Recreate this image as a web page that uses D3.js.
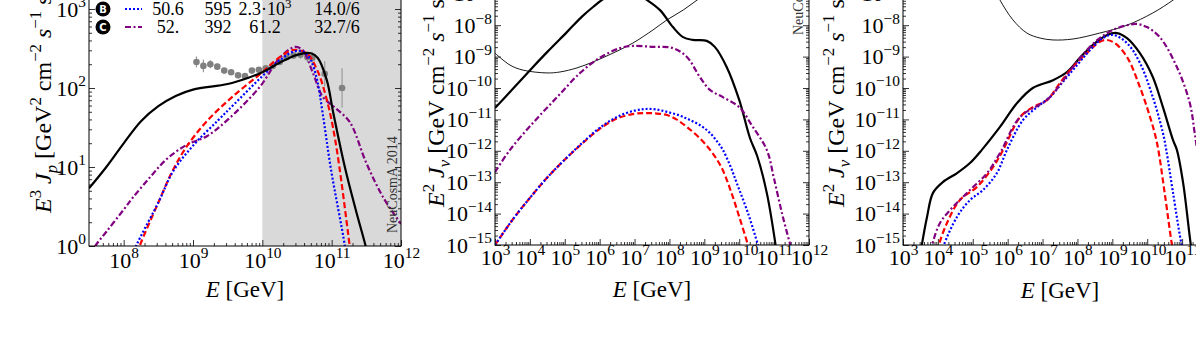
<!DOCTYPE html>
<html><head><meta charset="utf-8">
<script src="https://cdn.jsdelivr.net/npm/d3@7"></script>
<style>body{margin:0;background:#fff}svg{display:block}</style>
</head><body>
<svg id="c" width="1196" height="352"></svg>
<script>
// ---------- DATA (log10 E [GeV], log10 flux) ----------
// Panel 1: proton spectra E^3 J_p
const p1Black  = [[7.5,0.73],[7.75,1.0],[8.0,1.3],[8.25,1.58],[8.5,1.77],[8.75,1.9],[9.0,1.98],[9.5,2.05],[9.8,2.13],[10.0,2.2],[10.25,2.32],[10.5,2.42],[10.7,2.44],[10.8,2.38],[10.93,2.1],[11.02,1.7],[11.19,1.0],[11.35,0.45],[11.49,0.0],[11.6,-0.4]];
const p1Red    = [[8.15,-0.2],[8.23,0],[8.5,0.55],[8.71,0.96],[8.91,1.26],[9.2,1.58],[9.57,1.89],[10.0,2.2],[10.25,2.39],[10.44,2.48],[10.64,2.44],[10.79,2.23],[10.93,1.85],[11.05,1.35],[11.26,0],[11.3,-0.3]];
const p1Blue   = [[8.1,-0.2],[8.18,0],[8.5,0.55],[8.71,0.94],[9.0,1.27],[9.36,1.59],[9.6,1.8],[10.0,2.15],[10.25,2.35],[10.45,2.46],[10.6,2.46],[10.7,2.35],[10.79,2.1],[10.87,1.68],[10.99,0.97],[11.19,0],[11.23,-0.3]];
const p1Purple = [[7.5,-0.15],[7.59,0],[7.75,0.18],[8.0,0.46],[8.13,0.61],[8.38,0.87],[8.62,1.1],[8.91,1.28],[9.2,1.39],[9.49,1.59],[9.96,2.01],[10.25,2.38],[10.47,2.52],[10.58,2.48],[10.73,2.19],[10.87,1.89],[11.05,1.75],[11.26,1.57],[11.5,1.05],[11.74,0.62],[12.0,0.28]];
// Auger-like data points
const p1PtsE   = [9.05,9.15,9.25,9.35,9.45,9.55,9.65,9.75,9.85,9.95,10.05,10.15,10.25,10.35,10.45,10.55,10.65,10.72,10.9,11.15];
const p1PtsJ   = [2.33,2.28,2.30,2.27,2.22,2.20,2.16,2.15,2.22,2.23,2.25,2.28,2.33,2.39,2.41,2.42,2.39,2.38,2.18,2.0];
const p1PtsErr = [0.07,0.08,0.05,0.04,0.03,0.03,0.03,0.02,0.02,0.02,0.02,0.02,0.02,0.03,0.04,0.05,0.06,0.08,0.16,0.25];

// Panel 2: neutrino spectra E^2 J_nu
const p2Black  = [[3.0,-10.64],[3.5,-10.04],[4.09,-9.33],[4.5,-8.85],[5.06,-8.22],[5.5,-7.72],[5.81,-7.42],[6.2,-7.1],[6.7,-6.9],[7.0,-6.95],[7.36,-7.2],[7.73,-7.52],[8.1,-8.06],[8.39,-8.38],[8.67,-8.47],[9.07,-8.5],[9.3,-8.69],[9.64,-9.33],[10.0,-10.38],[10.31,-11.6],[10.51,-12.15],[10.79,-13.34],[11.05,-15.06]];
const p2Thin   = [[3.0,-8.89],[3.43,-9.27],[3.8,-9.43],[4.49,-9.52],[4.86,-9.49],[5.35,-9.36],[5.81,-9.17],[6.38,-8.89],[6.95,-8.57],[7.53,-8.15],[7.93,-7.83],[8.39,-7.52],[8.79,-7.2],[9.3,-6.8]];
const p2Purple = [[3.0,-12.68],[3.43,-11.97],[4.09,-11.11],[4.78,-10.29],[5.44,-9.52],[6.0,-9.04],[6.58,-8.73],[6.95,-8.66],[7.53,-8.69],[8.1,-8.73],[8.5,-9.01],[8.87,-9.65],[9.16,-10.06],[9.53,-10.29],[10.0,-10.61],[10.39,-11.24],[10.79,-11.97],[11.0,-12.9],[11.25,-14.1],[11.48,-15.06]];
const p2Blue   = [[3.0,-15.0],[3.5,-14.2],[4.0,-13.5],[4.5,-12.85],[5.0,-12.28],[5.5,-11.75],[6.0,-11.27],[6.5,-10.92],[7.0,-10.72],[7.3,-10.67],[7.6,-10.68],[7.93,-10.76],[8.3,-10.88],[8.59,-11.02],[8.9,-11.2],[9.16,-11.43],[9.35,-11.68],[9.53,-11.97],[9.75,-12.5],[9.93,-13.03],[10.25,-13.98],[10.54,-15.0],[10.6,-15.2]];
const p2Red    = [[3.0,-15.0],[3.5,-14.2],[4.0,-13.5],[4.5,-12.85],[5.0,-12.28],[5.5,-11.77],[6.0,-11.3],[6.5,-10.97],[7.0,-10.82],[7.3,-10.8],[7.6,-10.81],[7.93,-10.86],[8.2,-11.0],[8.5,-11.24],[8.87,-11.6],[9.22,-12.05],[9.5,-12.55],[9.75,-13.25],[10.0,-14.1],[10.25,-15.0],[10.3,-15.2]];

// Panel 3
const p3Thin   = [[5.6,-6.8],[5.78,-7.2],[6.15,-7.83],[6.55,-8.25],[6.93,-8.41],[7.3,-8.47],[7.87,-8.44],[8.64,-8.25],[9.42,-8.0],[10.16,-7.61],[10.74,-7.2],[11.2,-6.8]];
const p3Black  = [[3.5,-15.3],[3.54,-15.0],[3.69,-14.1],[3.86,-13.34],[4.15,-12.99],[4.55,-12.71],[4.92,-12.39],[5.26,-11.97],[5.78,-11.24],[6.27,-10.48],[6.72,-10.0],[7.3,-9.75],[7.7,-9.49],[8.07,-9.04],[8.44,-8.63],[8.85,-8.31],[9.13,-8.25],[9.42,-8.41],[9.79,-8.89],[10.16,-9.65],[10.45,-10.61],[10.74,-11.66],[10.85,-11.97],[11.03,-13.03],[11.25,-15.0],[11.3,-15.3]];
const p3Red    = [[4.0,-15.2],[4.03,-15.0],[4.26,-14.3],[4.63,-13.57],[5.12,-13.15],[5.58,-12.52],[5.87,-11.97],[6.36,-10.92],[6.72,-10.61],[7.13,-10.38],[7.5,-9.84],[7.87,-9.33],[8.27,-8.89],[8.64,-8.53],[8.84,-8.47],[9.07,-8.57],[9.42,-9.01],[9.79,-9.97],[10.08,-10.92],[10.28,-11.75],[10.5,-13.34],[10.71,-15.0],[10.75,-15.2]];
const p3Blue   = [[4.12,-15.2],[4.17,-15.0],[4.55,-14.1],[4.92,-13.57],[5.29,-13.25],[5.69,-12.71],[5.98,-11.97],[6.44,-11.02],[6.84,-10.61],[7.21,-10.29],[7.58,-9.81],[7.99,-9.27],[8.36,-8.79],[8.73,-8.41],[9.02,-8.31],[9.42,-8.57],[9.79,-9.2],[10.16,-10.29],[10.45,-11.43],[10.55,-12.0],[10.74,-13.34],[10.99,-15.0],[11.05,-15.2]];
const p3Purple = [[3.78,-15.2],[3.83,-15.0],[4.06,-14.3],[4.43,-13.79],[4.92,-13.25],[5.41,-12.71],[5.78,-12.07],[6.36,-10.92],[7.13,-10.38],[7.5,-9.9],[7.87,-9.33],[8.27,-8.79],[8.64,-8.41],[9.02,-8.15],[9.42,-8.0],[9.7,-7.96],[9.99,-8.06],[10.36,-8.38],[10.85,-9.33],[11.22,-10.48],[11.36,-11.43],[11.5,-12.5],[11.7,-14.0],[11.85,-15.0]];

// Legend rows
const legLetters = ["B","C"];
const legVals = [["50.6","595","2.3·10|3","14.0/6"],["52.","392","61.2","32.7/6"]];

// ---------- STYLE ----------
const FONT = "Liberation Serif, Times New Roman, serif";
const styles = {
  black:{stroke:"#000",w:2.2,dash:null},
  thin:{stroke:"#000",w:0.9,dash:null},
  red:{stroke:"#ff0000",w:2.2,dash:"6,3"},
  blue:{stroke:"#0000ff",w:2.2,dash:"2,2"},
  purple:{stroke:"#800080",w:2.2,dash:"6,2.5,2,2.5"}
};

const svg = d3.select("#c");

const panels = [
  {id:"p1", x0:89, x1:401, xd:[10**7.5,1e12], yr:[246,246-3.5*79], yd:[1,10**3.5],
   xdec:[8,9,10,11,12], ydec:[0,1,2,3], xminDec:[7,11], yminDec:[0,3], pad:6,
   series:[[p1Purple,"purple"],[p1Red,"red"],[p1Blue,"blue"],[p1Black,"black"]]},
  {id:"p2", x0:495, x1:809, xd:[1e3,1e12], yr:[245,245-9*31.4], yd:[1e-15,1e-6],
   xdec:[3,4,5,6,7,8,9,10,11,12], ydec:[-15,-14,-13,-12,-11,-10,-9,-8,-7], xminDec:[3,11], yminDec:[-15,-7], pad:4,
   series:[[p2Thin,"thin"],[p2Black,"black"],[p2Purple,"purple"],[p2Red,"red"],[p2Blue,"blue"]]},
  {id:"p3", x0:903, x1:1217, xd:[1e3,1e12], yr:[245,245-9*31.4], yd:[1e-15,1e-6],
   xdec:[3,4,5,6,7,8,9,10,11,12], ydec:[-15,-14,-13,-12,-11,-10,-9,-8,-7], xminDec:[3,11], yminDec:[-15,-7], pad:4,
   series:[[p3Thin,"thin"],[p3Black,"black"],[p3Red,"red"],[p3Blue,"blue"],[p3Purple,"purple"]]}
];

function minors(a,b){const r=[];for(let d=a;d<=b;d++)for(let m=2;m<=9;m++)r.push(m*10**d);return r;}
function supLabel(sel, fs){
  sel.each(function(d){
    const e = Math.round(Math.log10(d));
    const t = d3.select(this); t.text(null);
    t.append("tspan").text("10");
    t.append("tspan").attr("dy",-0.42*fs).attr("font-size",fs*0.7).text(String(e).replace("-","\u2212"));
  });
}

panels.forEach(p=>{
  const x = d3.scaleLog().domain(p.xd).range([p.x0,p.x1]);
  const y = d3.scaleLog().domain(p.yd).range(p.yr);
  const g = svg.append("g");
  const top = p.yr[1], bot = p.yr[0];
  g.append("clipPath").attr("id","clip"+p.id).append("rect")
    .attr("x",p.x0).attr("y",top).attr("width",p.x1-p.x0).attr("height",bot-top);
  if(p.id==="p1"){
    g.append("rect").attr("x",x(1e10)).attr("y",top).attr("width",p.x1-x(1e10)).attr("height",bot-top).attr("fill","#d9d9d9");
  }
  const xM = p.xdec.map(d=>10**d).filter(v=>v>=p.xd[0]&&v<=p.xd[1]);
  const yM = p.ydec.map(d=>10**d);
  const xm = minors(p.xminDec[0],p.xminDec[1]).filter(v=>v>p.xd[0]&&v<p.xd[1]);
  const ym = minors(p.yminDec[0],p.yminDec[1]).filter(v=>v>p.yd[0]&&v<p.yd[1]);
  const tk = (axis, tr)=>{const a=g.append("g").attr("transform",tr).call(axis);a.select(".domain").remove();a.selectAll("text").remove();a.selectAll("line").attr("stroke","#000").attr("stroke-width",0.8);};
  tk(d3.axisBottom(x).tickValues(xM).tickSize(-6),`translate(0,${bot})`);
  tk(d3.axisBottom(x).tickValues(xm).tickSize(-3),`translate(0,${bot})`);
  tk(d3.axisTop(x).tickValues(xM).tickSize(-6),`translate(0,${top})`);
  tk(d3.axisTop(x).tickValues(xm).tickSize(-3),`translate(0,${top})`);
  tk(d3.axisLeft(y).tickValues(yM).tickSize(-6),`translate(${p.x0},0)`);
  tk(d3.axisLeft(y).tickValues(ym).tickSize(-3),`translate(${p.x0},0)`);
  tk(d3.axisRight(y).tickValues(yM).tickSize(-6),`translate(${p.x1},0)`);
  tk(d3.axisRight(y).tickValues(ym).tickSize(-3),`translate(${p.x1},0)`);
  const fs = 22;
  const xl = g.append("g").attr("transform",`translate(0,${bot})`)
    .call(d3.axisBottom(x).tickValues(xM).tickSize(0).tickPadding(p.pad));
  xl.select(".domain").remove();
  xl.selectAll("text").attr("font-family",FONT).attr("font-size",fs).attr("fill","#000").call(supLabel,fs);
  const yl = g.append("g").attr("transform",`translate(${p.x0},0)`)
    .call(d3.axisLeft(y).tickValues(yM).tickSize(0).tickPadding(3));
  yl.select(".domain").remove();
  yl.selectAll("text").attr("font-family",FONT).attr("font-size",fs).attr("fill","#000").call(supLabel,fs);

  const line = d3.line().x(d=>x(10**d[0])).y(d=>y(10**d[1])).curve(d3.curveCatmullRom.alpha(0.5));
  const cg = g.append("g").attr("clip-path",`url(#clip${p.id})`);
  if(p.id==="p1"){
    const pts = p1PtsE.map((e,i)=>({e, j:p1PtsJ[i], er:p1PtsErr[i]}));
    cg.selectAll(".eb").data(pts).join("line")
      .attr("x1",d=>x(10**d.e)).attr("x2",d=>x(10**d.e))
      .attr("y1",d=>y(10**(d.j-d.er))).attr("y2",d=>y(10**(d.j+d.er)))
      .attr("stroke","#9a9a9a").attr("stroke-width",1.2);
    cg.selectAll(".pt").data(pts).join("circle")
      .attr("cx",d=>x(10**d.e)).attr("cy",d=>y(10**d.j)).attr("r",3.3).attr("fill","#808080");
  }
  p.series.forEach(([data,key])=>{
    const s = styles[key];
    cg.append("path").attr("d",line(data)).attr("fill","none")
      .attr("stroke",s.stroke).attr("stroke-width",s.w)
      .attr("stroke-dasharray",s.dash).attr("stroke-linejoin","round");
  });
  g.append("rect").attr("x",p.x0).attr("y",top).attr("width",p.x1-p.x0).attr("height",bot-top)
    .attr("fill","none").attr("stroke","#000").attr("stroke-width",1);
});

function rich(sel, parts, fs){
  let shift = 0;
  parts.forEach(pt=>{
    const target = pt.sup ? -0.4*fs : pt.sub ? 0.25*fs : 0;
    const ts = sel.append("tspan").text(pt.t).attr("dy", target-shift);
    shift = target;
    if(pt.sup||pt.sub) ts.attr("font-size", fs*0.7);
    if(pt.i) ts.attr("font-style","italic");
  });
}
const LF = 23, YF = 24;
[[245,297],[652,297],[1060,298]].forEach(([cx,by])=>{
  const t = svg.append("text").attr("x",cx).attr("y",by).attr("text-anchor","middle")
    .attr("font-family",FONT).attr("font-size",LF);
  rich(t,[{t:"E",i:true},{t:" [GeV]"}],LF);
});
const ylab1 = [{t:"E",i:true},{t:"3",sup:true},{t:" "},{t:"J",i:true},{t:"p",sub:true,i:true},{t:" [GeV"},{t:"2",sup:true},{t:" cm"},{t:"\u22122",sup:true},{t:" "},{t:"s",i:true},{t:"\u22121",sup:true},{t:" sr"},{t:"\u22121",sup:true},{t:"]"}];
const ylab2 = [{t:"E",i:true},{t:"2",sup:true},{t:" "},{t:"J",i:true},{t:"\u03bd",sub:true,i:true},{t:" [GeV cm"},{t:"\u22122",sup:true},{t:" "},{t:"s",i:true},{t:"\u22121",sup:true},{t:" sr"},{t:"\u22121",sup:true},{t:"]"}];
[[51,213,ylab1],[444,207,ylab2],[844,207,ylab2]].forEach(([bx,sy,parts])=>{
  const t = svg.append("text").attr("x",bx).attr("y",sy).attr("transform",`rotate(-90,${bx},${sy})`)
    .attr("font-family",FONT).attr("font-size",YF);
  rich(t,parts,YF);
});
svg.append("text").attr("x",397).attr("y",233).attr("transform","rotate(-90,397,233)")
  .attr("font-family",FONT).attr("font-size",14).attr("fill","#333").text("NeuCosmA 2014");
svg.append("text").attr("x",803).attr("y",35).attr("transform","rotate(-90,803,35)")
  .attr("font-family",FONT).attr("font-size",14).attr("fill","#333").text("NeuCosmA 2014");

const legKeys = ["blue","purple"];
const legY = [9,27];
const colX = [168,218,265,337];
legLetters.forEach((L,i)=>{
  const yy = legY[i];
  svg.append("circle").attr("cx",103).attr("cy",yy).attr("r",7.5).attr("fill","#000");
  svg.append("text").attr("x",103).attr("y",yy+4).attr("text-anchor","middle").attr("fill","#fff")
    .attr("font-family","DejaVu Sans, sans-serif").attr("font-weight","bold").attr("font-size",10).text(L);
  const s = styles[legKeys[i]];
  svg.append("line").attr("x1",125).attr("x2",142).attr("y1",yy).attr("y2",yy)
    .attr("stroke",s.stroke).attr("stroke-width",s.w).attr("stroke-dasharray",s.dash);
  legVals[i].forEach((v,k)=>{
    const t = svg.append("text").attr("x",colX[k]).attr("y",yy+6).attr("text-anchor","middle")
      .attr("font-family",FONT).attr("font-size",18);
    if(v.includes("|")){const [a,b]=v.split("|"); t.append("tspan").text(a); t.append("tspan").attr("dy",-7).attr("font-size",13).text(b);}
    else t.text(v);
  });
});
</script>
</body></html>
